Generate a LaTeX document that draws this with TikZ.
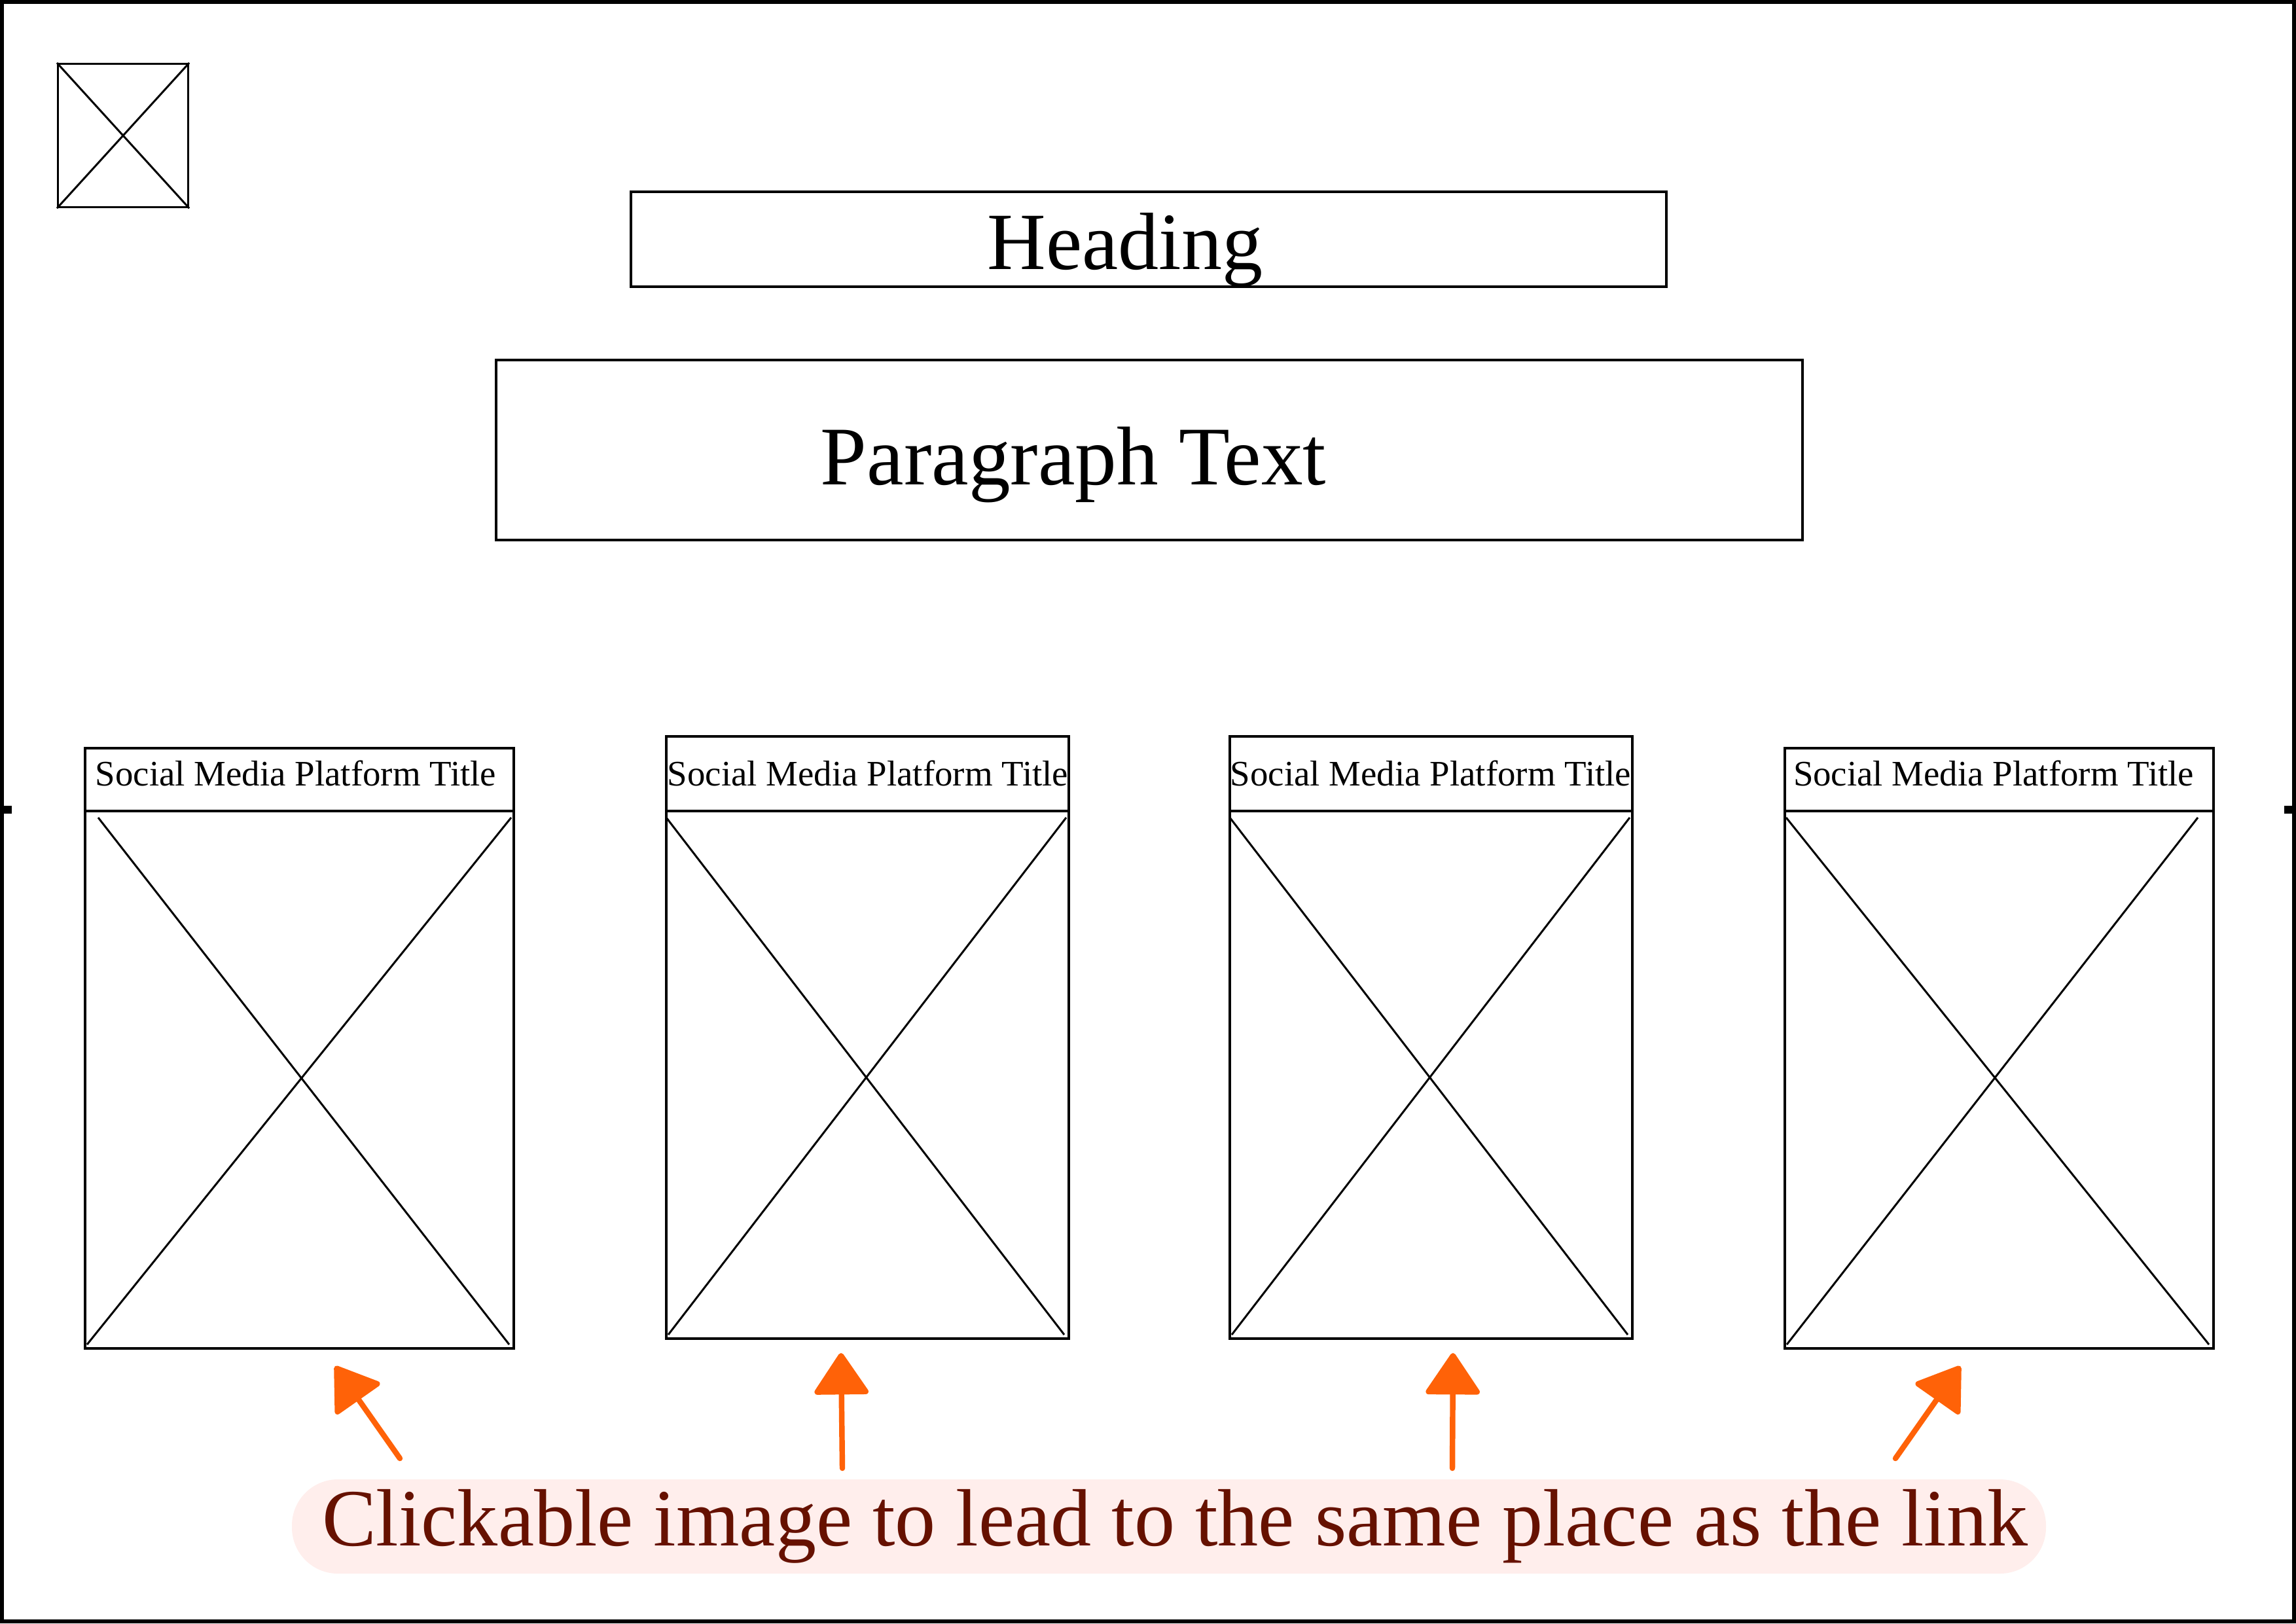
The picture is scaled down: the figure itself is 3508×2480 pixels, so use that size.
\documentclass[tikz,border=0pt]{standalone}
\usepackage{fontspec}
\setmainfont{Liberation Serif}
\usetikzlibrary{arrows.meta,calc}
\definecolor{arroworange}{RGB}{255,98,8}
\definecolor{pillfill}{RGB}{255,238,236}
\definecolor{labeltext}{RGB}{102,17,0}
\tikzset{
  boxline/.style={draw=black, line width=1pt},
  crossline/.style={draw=black, line width=0.85pt},
  plainbox/.style={boxline, rectangle, inner sep=0pt, anchor=north west},
  cardtitle/.style={anchor=base, inner sep=0pt, font=\fontsize{15.6}{18}\selectfont},
  bigtext/.style={anchor=base, inner sep=0pt, font=\fontsize{35.3}{40}\selectfont},
  pill/.style={fill=pillfill, rectangle, rounded corners=20pt, inner sep=0pt},
  orangearrow/.style={draw=arroworange, line width=2.4pt, line cap=round,
    -{Triangle[length=19pt,width=25pt,round]}},
}
\newcommand{\mycard}[8]{% name, x1, x2, top, bottom, title centre x, TL inset, TR inset
  \node[plainbox, minimum width={(#3-#2)*0.01cm}, minimum height={(#5-#4)*0.01cm}] (#1) at (#2,#4) {};
  \coordinate (#1dl) at (#2,1239);
  \coordinate (#1dr) at (#3,1239);
  \draw[boxline] (#1dl) -- (#1dr);
  \node[cardtitle] (#1title) at (#6,1200) {Social Media Platform Title};
  \coordinate (#1p) at (#2+#7,1249);
  \coordinate (#1q) at (#3-5,#5-4);
  \coordinate (#1r) at (#3-#8,1249);
  \coordinate (#1s) at (#2+5,#5-4);
  \draw[crossline] (#1p) -- (#1q);
  \draw[crossline] (#1r) -- (#1s);
}
\begin{document}
\begin{tikzpicture}[x=0.01cm,y=-0.01cm]
\useasboundingbox (0,0) rectangle (3508,2480);
% outer frame
\draw[line width=1.71pt] (3,3) rectangle (3505,2477);
\fill (6,1231) rectangle (18,1243);
\fill (3490,1231) rectangle (3502,1243);

% logo placeholder
\node[plainbox, line width=0.9pt, minimum width={199*0.01cm}, minimum height={219*0.01cm}] (logo) at (87,96) {};
\draw[crossline] (logo.north west) -- (logo.south east);
\draw[crossline] (logo.north east) -- (logo.south west);

% heading
\node[plainbox, minimum width={1582*0.01cm}, minimum height={145*0.01cm}] (heading) at (962,291) {};
\node[bigtext, font=\fontsize{35.3}{40}\selectfont] (headingtext) at (1719,411) {Heading};

% paragraph
\node[plainbox, minimum width={1996*0.01cm}, minimum height={275*0.01cm}] (para) at (756,548) {};
\node[bigtext, font=\fontsize{36.2}{40}\selectfont] (paratext) at (1640,740) {Paragraph Text};

% cards
\mycard{cardA}{128}{783}{1141}{2058}{452}{22}{2}
\mycard{cardB}{1016}{1631}{1123}{2043}{1326}{2}{2}
\mycard{cardC}{1877}{2492}{1123}{2043}{2186}{2}{2}
\mycard{cardD}{2725}{3380}{1141}{2058}{3046}{4}{22}

% label
\node[pill, minimum width={2680*0.01cm}, minimum height={144*0.01cm}] (labelbg) at (1786,2332) {};
\node[bigtext, text=labeltext] (label) at (1795,2361) {Clickable image to lead to the same place as the link};

% arrows
\coordinate (a1tail) at (611,2228); \coordinate (a1tip) at (512,2087);
\coordinate (a2tail) at (1287,2243); \coordinate (a2tip) at (1285,2067);
\coordinate (a3tail) at (2219,2243); \coordinate (a3tip) at (2220,2067);
\coordinate (a4tail) at (2896,2228); \coordinate (a4tip) at (2995,2087);
\draw[orangearrow] (a1tail) -- (a1tip);
\draw[orangearrow] (a2tail) -- (a2tip);
\draw[orangearrow] (a3tail) -- (a3tip);
\draw[orangearrow] (a4tail) -- (a4tip);
\end{tikzpicture}
\end{document}
